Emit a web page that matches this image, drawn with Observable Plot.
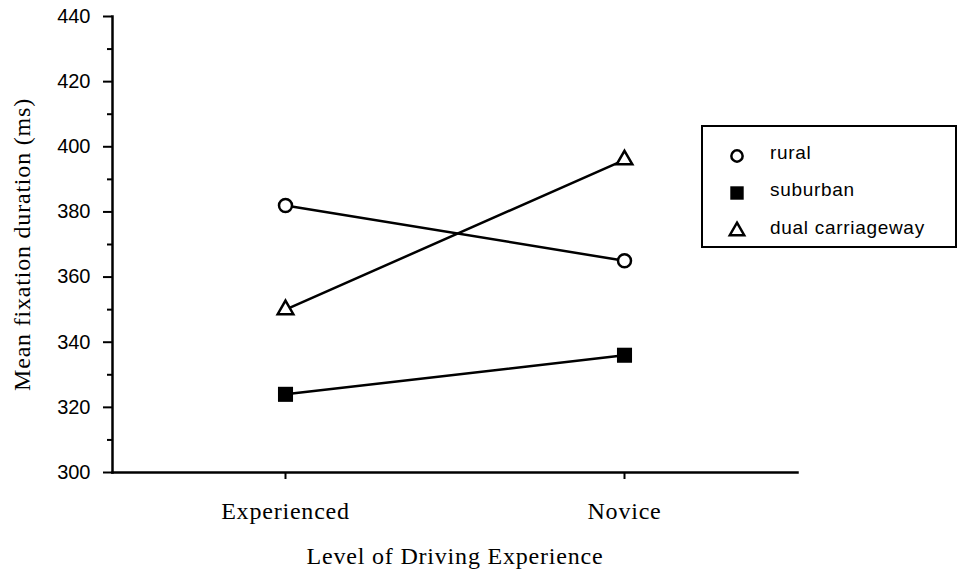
<!DOCTYPE html>
<html>
<head>
<meta charset="utf-8">
<script src="https://cdn.jsdelivr.net/npm/d3@7"></script>
<script src="https://cdn.jsdelivr.net/npm/@observablehq/plot@0.6"></script>
<style>
  html, body { margin: 0; padding: 0; background: #fff; }
  #wrap { position: relative; width: 963px; height: 575px; }
  #legend {
    position: absolute; left: 701px; top: 125px; width: 252px; height: 119px;
    border: 2px solid #000; background: #fff;
    font-family: "Liberation Sans", Arial, sans-serif; font-size: 19px; color: #000; letter-spacing: 0.7px;
  }
  .row { position: absolute; left: 0; height: 20px; }
  .row svg { position: absolute; left: 22px; top: -2px; }
  .row span { position: absolute; left: 67px; white-space: nowrap; line-height: 20px; top: -3px; }
</style>
</head>
<body>
<div id="wrap"><div id="chart"></div><div id="legend"></div></div>
<script>
const levels = ["Experienced", "Novice"];
const seriesNames = ["rural", "suburban", "dual carriageway"];
const rural = [382, 365];
const suburban = [324, 336];
const dualCarriageway = [350, 396];
const yTicks = [300, 320, 340, 360, 380, 400, 420, 440];
const yMinorTicks = [310, 330, 350, 370, 390, 410, 430];

const seriesValues = [rural, suburban, dualCarriageway];
const symbols = ["circle", "square", "triangle"];
const data = [];
seriesNames.forEach((s, i) => levels.forEach((l, j) => data.push({series: s, level: l, value: seriesValues[i][j]})));

const serif = "'Liberation Serif', 'Times New Roman', serif";
const sans = "'Liberation Sans', Arial, sans-serif";

const chart = Plot.plot({
  width: 963,
  height: 575,
  marginLeft: 112,
  marginRight: 166,
  marginTop: 16,
  marginBottom: 103,
  style: {background: "#fff", color: "#000"},
  x: {type: "point", domain: levels, padding: 0.51, label: null},
  y: {domain: [300, 440], label: null},
  marks: [
    Plot.axisY(yTicks, {tickSize: 9, tickPadding: 13, fontSize: 20, fontFamily: sans, strokeWidth: 2, label: null}),
    Plot.axisY(yMinorTicks, {tickSize: 5, text: null, strokeWidth: 2, label: null}),
    Plot.axisX({tickSize: 7, tickPadding: 22, fontSize: 24, fontFamily: serif, strokeWidth: 2, label: null}),
    Plot.frame({anchor: "left", strokeWidth: 2.5}),
    Plot.frame({anchor: "bottom", strokeWidth: 2.5}),
    Plot.line(data, {x: "level", y: "value", z: "series", stroke: "#000", strokeWidth: 2.5}),
    Plot.dot(data.filter(d => d.series === "rural"), {x: "level", y: "value", symbol: "circle", r: 6.5, fill: "white", stroke: "black", strokeWidth: 2.5}),
    Plot.dot(data.filter(d => d.series === "suburban"), {x: "level", y: "value", symbol: "square", r: 8.5, fill: "black", stroke: "none"}),
    Plot.dot(data.filter(d => d.series === "dual carriageway"), {x: "level", y: "value", symbol: "triangle", r: 5.8, fill: "white", stroke: "black", strokeWidth: 2.5}),
    Plot.text(["Mean fixation duration (ms)"], {frameAnchor: "left", textAnchor: "middle", dx: -90, rotate: -90, fontSize: 24, fontFamily: serif, fill: "#000"}),
    Plot.text(["Level of Driving Experience"], {frameAnchor: "bottom", dy: 91, fontSize: 24, fontFamily: serif, fill: "#000"})
  ]
});
document.getElementById("chart").appendChild(chart);
d3.select(chart).selectAll("text").each(function() {
  let el = this, ff = "";
  while (el && el.getAttribute && !ff) { ff = el.getAttribute("font-family") || ""; el = el.parentNode; }
  if (ff.includes("Serif")) this.style.letterSpacing = "0.8px";
  else if (ff.includes("Sans")) this.style.fontSize = "20px";
});

// legend
const legend = document.getElementById("legend");
const rowTops = [19, 56, 94];
seriesNames.forEach((s, i) => {
  const row = document.createElement("div");
  row.className = "row";
  row.style.top = rowTops[i] + "px";
  const sym = symbols[i];
  const symType = sym === "circle" ? d3.symbolCircle : sym === "square" ? d3.symbolSquare : d3.symbolTriangle;
  const size = sym === "circle" ? 100 : sym === "square" ? 180 : 90;
  const path = d3.symbol(symType, size)();
  const filled = sym === "square";
  row.innerHTML = `<svg width="24" height="24" viewBox="-12 -12 24 24"><path d="${path}" fill="${filled ? "#000" : "#fff"}" stroke="#000" stroke-width="${filled ? 0 : 2.5}"/></svg><span>${s}</span>`;
  legend.appendChild(row);
});
</script>
</body>
</html>
